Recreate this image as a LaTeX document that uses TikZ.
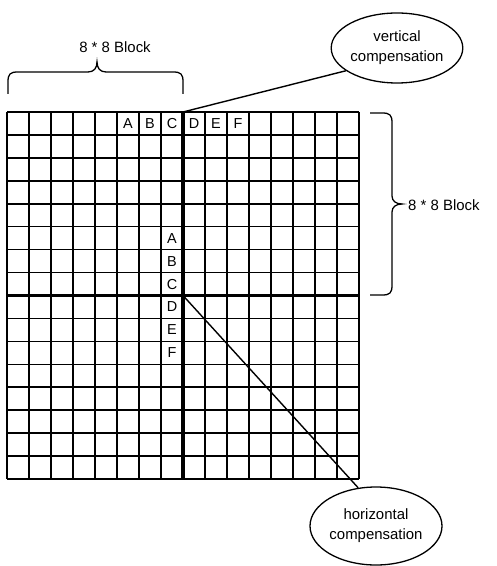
\documentclass[tikz,border=0pt]{standalone}
\usepackage{fontspec}
\setmainfont{Liberation Sans}
\usetikzlibrary{shapes.geometric}
\begin{document}
\begin{tikzpicture}[x=1bp,y=-1bp,
  gridline/.style={line width=1.6bp},
  heavyline/.style={line width=3.2bp},
  callout/.style={ellipse,draw,line width=1.3bp,inner sep=0pt,align=center,font=\fontsize{15}{20}\selectfont},
  cell/.style={font=\fontsize{14.5}{14.5}\selectfont,inner sep=0pt},
  bracelabel/.style={font=\fontsize{15}{15}\selectfont,inner sep=0pt},
  bracepath/.style={line width=1.3bp},
  leader/.style={line width=1.4bp}]
\useasboundingbox (0,0) rectangle (497,566);
% grid
\foreach \i in {0,...,16} \draw[gridline] ({7+22*\i},112) -- ({7+22*\i},479);
\foreach \j in {0,...,16} \draw[gridline] (7,{112+22.9375*\j}) -- (359,{112+22.9375*\j});
\draw[heavyline] (183,112) -- (183,479);
\draw[heavyline] (7,295.5) -- (359,295.5);
\coordinate (topc) at (183,112);
\coordinate (ctr) at (183,295.5);
% letters
\foreach \l [count=\k from 5] in {A,B,C,D,E,F} {
  \node[cell] (t\l) at ({7+22*(\k+0.5)},123.5) {\l};
  \node[cell] (v\l) at (172,{112+22.9375*(\k+0.5)}) {\l};
}
% callouts
\node[callout,minimum width=116bp,minimum height=70bp] (vc) at (397,48) {vertical\\compensation};
\node[callout,minimum width=132bp,minimum height=78bp] (hc) at (376,526) {horizontal\\compensation};
\draw[leader] (topc) -- (vc.204);
\draw[leader] (ctr) -- (hc.115);
% top brace
\draw[bracepath] (8,94) -- (8,82) .. controls (8,74) and (10,72) .. (18,72) -- (88,72) .. controls (94,72) and (97,68) .. (97,62) .. controls (97,68) and (100,72) .. (106,72) -- (173,72) .. controls (181,72) and (183,74) .. (183,82) -- (183,94);
\node[bracelabel] (tb) at (115,47) {8 * 8 Block};
% right brace
\draw[bracepath] (370,113) -- (382,113) .. controls (390,113) and (392,115) .. (392,123) -- (392,196) .. controls (392,201) and (396,204) .. (402,204) .. controls (396,204) and (392,207) .. (392,212) -- (392,285) .. controls (392,293) and (390,295) .. (382,295) -- (370,295);
\node[bracelabel,anchor=west] (rb) at (408,205) {8 * 8 Block};
\end{tikzpicture}
\end{document}
